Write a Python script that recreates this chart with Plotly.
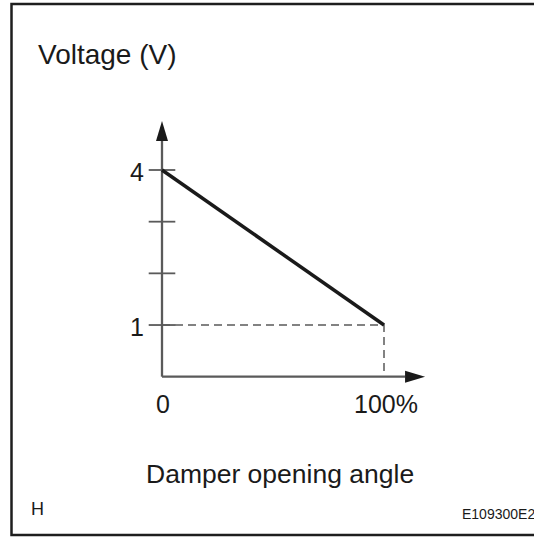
import plotly.graph_objects as go

# ---- data -------------------------------------------------------------
angle_pct = [0, 100]          # damper opening angle (%)
voltage_v = [4, 1]            # sensor output voltage (V)

y_tick_values = [1, 2, 3, 4]
y_label_values = [1, 4]
y_label_text = ["1", "4"]
x_label_values = [0, 100]
x_label_text = ["0", "100%"]

y_axis_end = 4.95             # top of the voltage arrow (V)
x_axis_end = 118.5            # tip of the angle arrow (%)

# ---- page geometry ----------------------------------------------------
W, H = 534, 537
ORIGIN_PX = (162.0, 376.7)    # pixel position of (0 %, 0 V)
PX_PER_PCT = 2.22
PX_PER_VOLT = 51.675

x_range = [-ORIGIN_PX[0] / PX_PER_PCT, (W - ORIGIN_PX[0]) / PX_PER_PCT]
y_range = [(ORIGIN_PX[1] - H) / PX_PER_VOLT, ORIGIN_PX[1] / PX_PER_VOLT]

AXIS_COLOR = "#5a5a5a"
INK = "#1a1a1a"
FONT = "Liberation Sans, Arial, sans-serif"


def px(x):
    return x / W


def py(y):
    return 1 - y / H


fig = go.Figure()

# guide lines to the end point
fig.add_trace(go.Scatter(
    x=[angle_pct[0], angle_pct[1], angle_pct[1]],
    y=[voltage_v[1], voltage_v[1], 0],
    mode="lines",
    line=dict(color=AXIS_COLOR, width=1.5, dash="8px,5px"),
    hoverinfo="skip",
))

# axes
fig.add_trace(go.Scatter(
    x=[0, 0], y=[0, y_axis_end - 20 / PX_PER_VOLT],
    mode="lines", line=dict(color=AXIS_COLOR, width=2.3), hoverinfo="skip",
))
fig.add_trace(go.Scatter(
    x=[0, x_axis_end - 20 / PX_PER_PCT], y=[0, 0],
    mode="lines", line=dict(color=AXIS_COLOR, width=2.3), hoverinfo="skip",
))

# tick marks crossing the voltage axis
fig.add_trace(go.Scatter(
    x=[0] * len(y_tick_values), y=y_tick_values,
    mode="markers",
    marker=dict(symbol="line-ew", size=19,
                line=dict(color=AXIS_COLOR, width=1.8)),
    hoverinfo="skip",
))

# characteristic line
fig.add_trace(go.Scatter(
    x=angle_pct, y=voltage_v,
    mode="lines",
    line=dict(color=INK, width=3.5),
    hoverinfo="skip",
))

shapes = [
    # arrow heads
    dict(type="path", xref="x", yref="y", xsizemode="pixel", ysizemode="pixel",
         xanchor=0, yanchor=y_axis_end,
         path="M0,0 L-6,-20 L6,-20 Z", fillcolor=INK, line=dict(width=0)),
    dict(type="path", xref="x", yref="y", xsizemode="pixel", ysizemode="pixel",
         xanchor=x_axis_end, yanchor=0,
         path="M0,0 L-20,6 L-20,-6 Z", fillcolor=INK, line=dict(width=0)),
    # frame
    dict(type="rect", xref="paper", yref="paper",
         x0=px(11.5), x1=px(W + 10), y0=py(535), y1=py(4),
         line=dict(color="#1e1e1e", width=2.5), fillcolor="rgba(0,0,0,0)"),
]

annotations = []
for v, t in zip(y_label_values, y_label_text):
    annotations.append(dict(x=0, y=v, xref="x", yref="y", text=t,
                            showarrow=False, xanchor="right", yanchor="middle",
                            xshift=-16, yshift=-2,
                            font=dict(size=25, color=INK, family=FONT)))
for v, t in zip(x_label_values, x_label_text):
    annotations.append(dict(x=v, y=0, xref="x", yref="y", text=t,
                            showarrow=False, xanchor="center", yanchor="middle",
                            xshift=2 if v else 1, yshift=-27,
                            font=dict(size=25, color=INK, family=FONT)))

annotations += [
    dict(x=px(36), y=py(54), xref="paper", yref="paper", text="Voltage (V)",
         showarrow=False, xanchor="left", yanchor="middle",
         font=dict(size=28, color=INK, family=FONT)),
    dict(x=px(279.5), y=py(474), xref="paper", yref="paper",
         text="Damper opening angle",
         showarrow=False, xanchor="center", yanchor="middle",
         font=dict(size=26.5, color=INK, family=FONT)),
    dict(x=px(29), y=py(509), xref="paper", yref="paper", text="H",
         showarrow=False, xanchor="left", yanchor="middle",
         font=dict(size=18, color=INK, family=FONT)),
    dict(x=px(460), y=py(514), xref="paper", yref="paper", text="E109300E22",
         showarrow=False, xanchor="left", yanchor="middle",
         font=dict(size=14, color=INK, family=FONT)),
]

fig.update_layout(
    width=W, height=H,
    margin=dict(l=0, r=0, t=0, b=0),
    paper_bgcolor="white", plot_bgcolor="white",
    showlegend=False,
    xaxis=dict(range=x_range, visible=False, fixedrange=True),
    yaxis=dict(range=y_range, visible=False, fixedrange=True),
    shapes=shapes,
    annotations=annotations,
)

fig.write_html("out.html", config={"displayModeBar": False})
